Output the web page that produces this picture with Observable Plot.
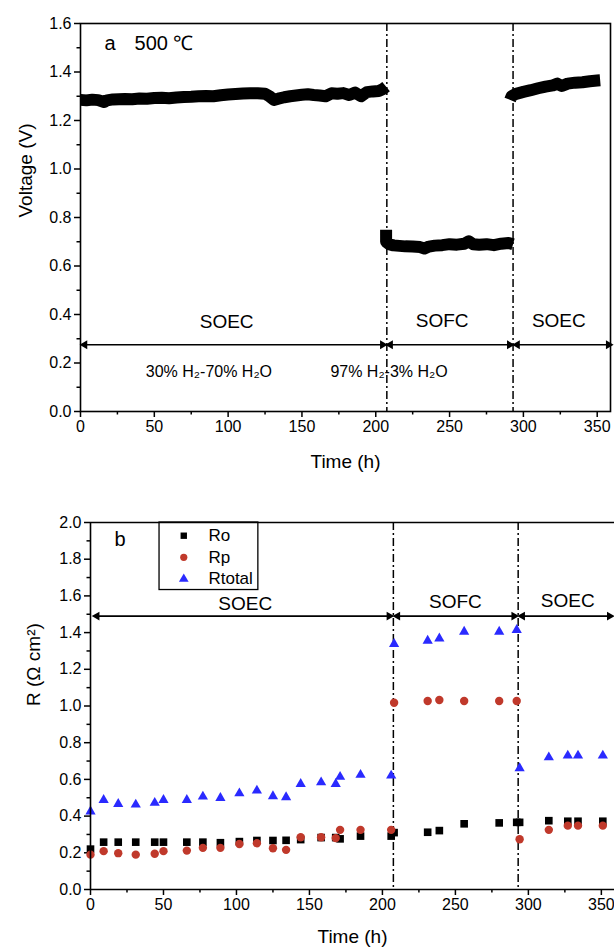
<!DOCTYPE html>
<html><head><meta charset="utf-8">
<script src="https://cdn.jsdelivr.net/npm/d3@7"></script>
<script src="https://cdn.jsdelivr.net/npm/@observablehq/plot@0.6"></script>
<style>
body{margin:0;background:#fff;}
#a,#b{width:614px;overflow:hidden;}
</style></head><body><div id="a"></div><div id="b"></div>
<script>
// ---------- Panel a: voltage trace (h, V) ----------
const soec1Time = [0,4,8,12,16,18,22,26,30,35,40,45,50,55,60,65,70,75,80,85,90,95,100,105,110,115,120,125,128,131,134,138,142,146,150,154,158,162,166,170,174,178,182,186,190,194,198,202,205,207];
const soec1Volt = [1.285,1.283,1.286,1.284,1.276,1.283,1.287,1.288,1.289,1.288,1.291,1.290,1.293,1.294,1.292,1.295,1.297,1.298,1.300,1.301,1.300,1.304,1.307,1.309,1.311,1.312,1.312,1.310,1.300,1.285,1.290,1.296,1.300,1.303,1.306,1.308,1.305,1.303,1.300,1.312,1.310,1.313,1.305,1.315,1.300,1.317,1.320,1.322,1.330,1.340];
const sofcTime = [207,207,209,212,216,220,225,230,233,236,240,245,250,255,260,263,266,270,275,280,285,290,293];
const sofcVolt = [0.750,0.700,0.690,0.685,0.683,0.681,0.680,0.678,0.672,0.680,0.684,0.686,0.690,0.688,0.692,0.702,0.690,0.688,0.690,0.686,0.692,0.695,0.690];
const soec2Time = [291,292,295,300,305,310,315,320,323,326,330,335,340,345,350,352];
const soec2Volt = [1.285,1.300,1.310,1.318,1.325,1.333,1.340,1.345,1.352,1.342,1.352,1.356,1.358,1.362,1.365,1.366];

const xMajor = [0,50,100,150,200,250,300,350];
const xMinor = [25,75,125,175,225,275,325];
const yMajorA = [0,0.2,0.4,0.6,0.8,1.0,1.2,1.4,1.6];
const yMinorA = [0.1,0.3,0.5,0.7,0.9,1.1,1.3,1.5];
const switchTimes = [207.5, 293];

const modeLabels = ["SOEC","SOFC","SOEC"];
const modeLabelTimeA = [99,245,324];
const modeLabelVoltA = [0.368,0.375,0.375];
const arrowStartA = [1.5,208.5,294.5];
const arrowEndA = [206,292,359];
const arrowLevelA = 0.275;
const gasLabels = ["30% H₂-70% H₂O","97% H₂-3% H₂O"];
const gasLabelTime = [87,209];
const gasLabelVolt = 0.162;

// ---------- Panel b: resistances (Ω cm²) ----------
const rTime = [0,9,19,31,44,50,66,77,89,102,114,125,134,144,158,168,171,185,206,208,231,239,256,280,292,294,314,327,334,351];
const ro = [0.22,0.258,0.258,0.258,0.258,0.258,0.258,0.258,0.255,0.261,0.267,0.267,0.268,0.272,0.283,0.283,0.276,0.291,0.291,0.31,0.312,0.321,0.358,0.363,0.366,0.366,0.375,0.372,0.372,0.372];
const rp = [0.19,0.209,0.198,0.19,0.195,0.209,0.212,0.227,0.227,0.248,0.252,0.225,0.216,0.285,0.285,0.28,0.325,0.325,0.325,1.018,1.027,1.033,1.027,1.027,1.027,0.274,0.325,0.348,0.348,0.348];
const rtotal = [0.425,0.488,0.466,0.463,0.472,0.488,0.488,0.506,0.499,0.524,0.539,0.508,0.503,0.575,0.584,0.575,0.614,0.625,0.621,1.338,1.356,1.368,1.405,1.405,1.414,0.661,0.72,0.73,0.73,0.73];
const seriesNames = ["Ro","Rp","Rtotal"];
const seriesColors = ["#000000","#c0392b","#2a2aff"];
const seriesSymbols = ["square","circle","triangle"];

const yMajorB = [0,0.2,0.4,0.6,0.8,1.0,1.2,1.4,1.6,1.8,2.0];
const yMinorB = [0.1,0.3,0.5,0.7,0.9,1.1,1.3,1.5,1.7,1.9];
const switchTimesB = [207.5, 293];
const modeLabelTimeB = [106,250,327];
const modeLabelRB = [1.555,1.565,1.575];
const arrowStartB = [3,209,294.5];
const arrowEndB = [206,291.5,357];
const arrowLevelB = 1.49;

const FONT = "'Liberation Sans', Arial, Helvetica, sans-serif";

// build tables
const voltRows = [];
soec1Time.forEach((t,i)=>voltRows.push({t, v: soec1Volt[i], seg: "soec1"}));
sofcTime.forEach((t,i)=>voltRows.push({t, v: sofcVolt[i], seg: "sofc"}));
soec2Time.forEach((t,i)=>voltRows.push({t, v: soec2Volt[i], seg: "soec2"}));

function arrowMarks(starts, ends, level){
  const segs = starts.map((s,i)=>({x1:s, x2:ends[i], y:level}));
  return [
    Plot.ruleY(segs, {x1:"x1", x2:"x2", y:"y", stroke:"#000", strokeWidth:1.6}),
    Plot.dot(segs, {x:"x1", y:"y", symbol:"triangle", rotate:-90, r:3.3, fill:"#000", dx:2}),
    Plot.dot(segs, {x:"x2", y:"y", symbol:"triangle", rotate:90, r:3.3, fill:"#000", dx:-2})
  ];
}

const axisCommon = {fontSize: 16, strokeWidth: 1.5};

const plotA = Plot.plot({
  width: 614, height: 480,
  marginLeft: 80, marginRight: 4, marginTop: 23, marginBottom: 69,
  style: {fontFamily: FONT, color: "#000", background: "#fff", overflow: "visible"},
  x: {domain: [0,359]},
  y: {domain: [0,1.6]},
  marks: [
    Plot.axisX({ticks: xMajor, tickSize: 6, tickPadding: 3, tickFormat: d=>String(d), label: null, ...axisCommon}),
    Plot.axisX({ticks: xMinor, tickSize: 3.5, tickFormat: ()=>"", label: null, strokeWidth: 1.5}),
    Plot.axisY({ticks: yMajorA, tickSize: 6, tickPadding: 3, tickFormat: d=>d.toFixed(1), label: null, ...axisCommon}),
    Plot.axisY({ticks: yMinorA, tickSize: 3.5, tickFormat: ()=>"", label: null, strokeWidth: 1.5}),
    Plot.ruleX(switchTimes, {stroke:"#000", strokeWidth:1.5, strokeDasharray:"8,3,2,3"}),
    Plot.line(voltRows, {x:"t", y:"v", z:"seg", stroke:"#000", strokeWidth:12, strokeLinejoin:"round", strokeLinecap:"butt"}),
    ...arrowMarks(arrowStartA, arrowEndA, arrowLevelA),
    Plot.text(modeLabels, {x:(d,i)=>modeLabelTimeA[i], y:(d,i)=>modeLabelVoltA[i], text:d=>d, fontSize:19, fill:"#000"}),
    Plot.text(gasLabels, {x:(d,i)=>gasLabelTime[i], y:()=>gasLabelVolt, text:d=>d, fontSize:16, fill:"#000", textAnchor:(d,i)=>i===0?"middle":"start"}),
    Plot.text(["a"], {x:[16.3], y:[1.516], text:d=>d, fontSize:20, textAnchor:"start"}),
    Plot.text(["500 ℃"], {x:[36.6], y:[1.516], text:d=>d, fontSize:20, textAnchor:"start"}),
    Plot.frame({stroke:"#000", strokeWidth:1.6}),
    Plot.text(["Voltage (V)"], {frameAnchor:"left", dx:-55, rotate:-90, fontSize:19}),
    Plot.text(["Time (h)"], {frameAnchor:"bottom", dy:56, fontSize:19})
  ]
});
document.getElementById("a").appendChild(plotA);

const rRows = [];
rTime.forEach((t,i)=>{
  rRows.push({t, r: ro[i], s: "Ro"});
  rRows.push({t, r: rp[i], s: "Rp"});
  rRows.push({t, r: rtotal[i], s: "Rtotal"});
});
const legendRows = seriesNames.map((s,i)=>({s, y:[1.928,1.81,1.692][i]}));

const plotB = Plot.plot({
  width: 614, height: 468,
  marginLeft: 90, marginRight: 0, marginTop: 42, marginBottom: 59,
  style: {fontFamily: FONT, color: "#000", background: "#fff", overflow: "hidden"},
  x: {domain: [0,359]},
  y: {domain: [0,2.0]},
  color: {domain: seriesNames, range: seriesColors},
  symbol: {domain: seriesNames, range: seriesSymbols},
  marks: [
    Plot.axisX({ticks: xMajor, tickSize: 6, tickPadding: 3, tickFormat: d=>String(d), label: null, ...axisCommon}),
    Plot.axisX({ticks: xMinor, tickSize: 3.5, tickFormat: ()=>"", label: null, strokeWidth: 1.5}),
    Plot.axisY({ticks: yMajorB, tickSize: 6, tickPadding: 3, tickFormat: d=>d.toFixed(1), label: null, ...axisCommon}),
    Plot.axisY({ticks: yMinorB, tickSize: 3.5, tickFormat: ()=>"", label: null, strokeWidth: 1.5}),
    Plot.ruleX(switchTimesB, {stroke:"#000", strokeWidth:1.5, strokeDasharray:"8,3,2,3"}),
    ...arrowMarks(arrowStartB, arrowEndB, arrowLevelB),
    Plot.text(modeLabels, {x:(d,i)=>modeLabelTimeB[i], y:(d,i)=>modeLabelRB[i], text:d=>d, fontSize:19, fill:"#000"}),
    Plot.dot(rRows.filter(d=>d.s==="Ro"), {x:"t", y:"r", symbol:"s", fill:"s", r:4.3}),
    Plot.dot(rRows.filter(d=>d.s==="Rp"), {x:"t", y:"r", symbol:"s", fill:"s", r:4.2}),
    Plot.dot(rRows.filter(d=>d.s==="Rtotal"), {x:"t", y:"r", symbol:"s", fill:"s", r:3.8}),
    // legend box
    Plot.rect([{x1:47.3, x2:115, y1:1.632, y2:2.0}], {x1:"x1", x2:"x2", y1:"y1", y2:"y2", fill:"#fff", stroke:"#000", strokeWidth:1.3}),
    Plot.dot(legendRows, {x:()=>63.9, y:"y", symbol:"s", fill:"s", r:3.6}),
    Plot.text(legendRows, {x:()=>80.8, y:"y", text:"s", textAnchor:"start", fontSize:17, fill:"#000"}),
    Plot.text(["b"], {x:[16.4], y:[1.906], text:d=>d, fontSize:20, textAnchor:"start"}),
    Plot.ruleY([0,2.0], {stroke:"#000", strokeWidth:1.6}),
    Plot.ruleX([0], {stroke:"#000", strokeWidth:1.6}),
    Plot.text(["R (Ω cm²)"], {frameAnchor:"left", dx:-57, rotate:-90, fontSize:19}),
    Plot.text(["Time (h)"], {frameAnchor:"bottom", dy:53, fontSize:19})
  ]
});
document.getElementById("b").appendChild(plotB);
</script>
</body></html>
